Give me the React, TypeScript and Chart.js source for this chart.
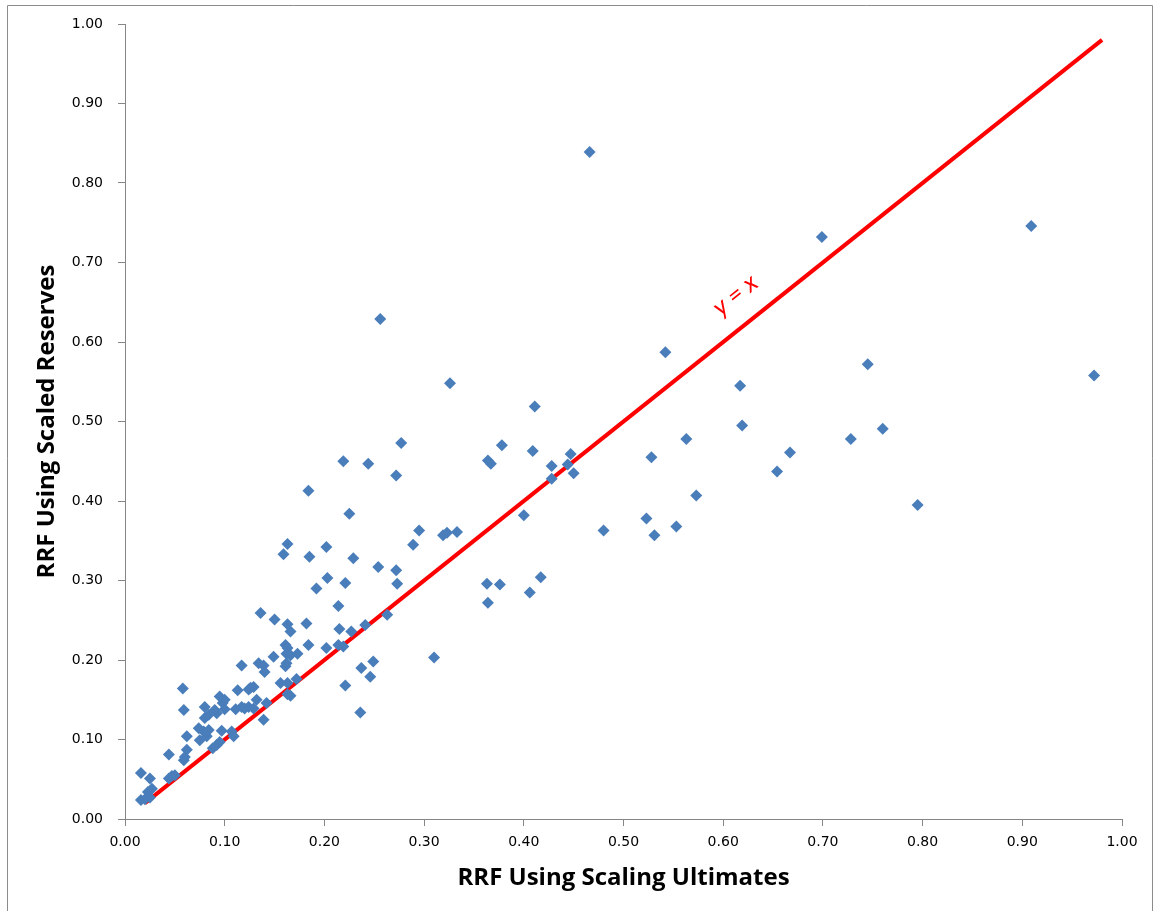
import { useEffect, useRef } from "react";
import { Chart, registerables } from "chart.js";

Chart.register(...registerables);

// RRF using scaling ultimates (x) vs RRF using scaled reserves (y)
const ultimates = [
  0.466, 0.699, 0.909, 0.542, 0.745, 0.972, 0.617, 0.619, 0.563, 0.528,
  0.728, 0.76, 0.667, 0.654, 0.573, 0.795, 0.523, 0.553, 0.48, 0.531,
  0.256, 0.326, 0.411, 0.277, 0.219, 0.244, 0.272, 0.364, 0.367, 0.378,
  0.409, 0.447, 0.428, 0.444, 0.45, 0.428, 0.184, 0.225, 0.4, 0.295,
  0.289, 0.319, 0.323, 0.333, 0.185, 0.202, 0.229, 0.203, 0.192, 0.221,
  0.254, 0.272, 0.273, 0.214, 0.363, 0.376, 0.417, 0.406, 0.364, 0.182,
  0.215, 0.227, 0.241, 0.263, 0.184, 0.202, 0.214, 0.219, 0.31, 0.237,
  0.249, 0.246, 0.221, 0.236, 0.163, 0.159,
  0.136, 0.15, 0.163, 0.166, 0.117, 0.134, 0.139, 0.14, 0.149, 0.173,
  0.161, 0.163, 0.162, 0.166, 0.161, 0.162, 0.156, 0.163, 0.163, 0.166,
  0.172, 0.126, 0.129, 0.113, 0.124, 0.095, 0.058, 0.139, 0.142, 0.12,
  0.124, 0.129, 0.132, 0.111, 0.1, 0.08, 0.098, 0.09, 0.084, 0.092,
  0.08, 0.1, 0.117, 0.059, 0.062, 0.074, 0.079, 0.084, 0.082, 0.075,
  0.097, 0.107, 0.109, 0.088, 0.092, 0.095, 0.044, 0.062, 0.06, 0.059,
  0.047, 0.044, 0.05, 0.016, 0.025, 0.027, 0.023, 0.016, 0.02, 0.025,
];
const reserves = [
  0.839, 0.732, 0.746, 0.587, 0.572, 0.558, 0.545, 0.495, 0.478, 0.455,
  0.478, 0.491, 0.461, 0.437, 0.407, 0.395, 0.378, 0.368, 0.363, 0.357,
  0.629, 0.548, 0.519, 0.473, 0.45, 0.447, 0.432, 0.451, 0.447, 0.47,
  0.463, 0.459, 0.444, 0.446, 0.435, 0.428, 0.413, 0.384, 0.382, 0.363,
  0.345, 0.357, 0.36, 0.361, 0.33, 0.342, 0.328, 0.303, 0.29, 0.297,
  0.317, 0.313, 0.296, 0.268, 0.296, 0.295, 0.304, 0.285, 0.272, 0.246,
  0.239, 0.236, 0.244, 0.257, 0.219, 0.215, 0.219, 0.217, 0.203, 0.19,
  0.198, 0.179, 0.168, 0.134, 0.346, 0.333,
  0.259, 0.251, 0.245, 0.236, 0.193, 0.196, 0.193, 0.185, 0.204, 0.208,
  0.219, 0.215, 0.208, 0.206, 0.192, 0.196, 0.171, 0.171, 0.157, 0.155,
  0.176, 0.165, 0.166, 0.162, 0.163, 0.154, 0.164, 0.125, 0.146, 0.139,
  0.141, 0.139, 0.15, 0.138, 0.15, 0.141, 0.146, 0.137, 0.131, 0.133,
  0.127, 0.138, 0.141, 0.137, 0.104, 0.114, 0.11, 0.112, 0.104, 0.099,
  0.111, 0.11, 0.104, 0.089, 0.093, 0.097, 0.081, 0.087, 0.078, 0.074,
  0.054, 0.051, 0.055, 0.058, 0.051, 0.038, 0.034, 0.024, 0.025, 0.027,
];

// Reference line y = x
const lineX = [0.02, 0.98];
const lineY = [0.02, 0.98];
const lineLabel = "y = x";
const lineLabelAt = [0.612, 0.659];

const axisMin = 0;
const axisMax = 1;
const axisStep = 0.1;

const xTitle = "RRF Using Scaling Ultimates";
const yTitle = "RRF Using Scaled Reserves";

export default function App() {
  const ref = useRef<HTMLCanvasElement>(null);

  useEffect(() => {
    const canvas = ref.current;
    if (!canvas) return;

    const framePlugin = {
      id: "frame",
      beforeDraw(chart: any) {
        const c = chart.ctx;
        c.save();
        c.fillStyle = "#ffffff";
        c.fillRect(0, 0, chart.width, chart.height);
        c.strokeStyle = "#8c8c8c";
        c.lineWidth = 1;
        c.beginPath();
        c.moveTo(7.5, 920);
        c.lineTo(7.5, 5.5);
        c.lineTo(1152.5, 5.5);
        c.lineTo(1152.5, 920);
        c.stroke();
        c.restore();
      },
      afterDatasetsDraw(chart: any) {
        const xs = chart.scales.x;
        const ys = chart.scales.y;
        const x1 = xs.getPixelForValue(lineX[0]);
        const y1 = ys.getPixelForValue(lineY[0]);
        const x2 = xs.getPixelForValue(lineX[1]);
        const y2 = ys.getPixelForValue(lineY[1]);
        const ang = Math.atan2(y2 - y1, x2 - x1);
        const px = xs.getPixelForValue(lineLabelAt[0]);
        const py = ys.getPixelForValue(lineLabelAt[1]);
        const c = chart.ctx;
        c.save();
        c.translate(px, py);
        c.rotate(ang);
        c.fillStyle = "#ff0000";
        c.font = 'italic 25px Lato';
        c.textAlign = "center";
        c.textBaseline = "middle";
        c.fillText(lineLabel, 0, 0);
        c.restore();
      },
    };

    const axisCommon = {
      type: "linear" as const,
      min: axisMin,
      max: axisMax,
      grid: {
        drawOnChartArea: false,
        drawTicks: true,
        tickLength: 7,
        color: "#868686",
      },
      border: { color: "#868686", width: 1 },
    };

    const titleFont = { family: "'Open Sans'", size: 24, weight: "bold" as const };
    const tickFont = { family: "'DejaVu Sans'", size: 14 };

    const chart = new Chart(canvas, {
      type: "scatter",
      data: {
        datasets: [
          {
            label: "RRF",
            data: ultimates.map((x, i) => ({ x, y: reserves[i] })),
            pointStyle: "rectRot",
            pointRadius: 6,
            pointHoverRadius: 6,
            backgroundColor: "#4a7ebb",
            borderColor: "#4a7ebb",
            borderWidth: 0,
            order: 1,
          },
          {
            label: "y = x",
            type: "line",
            data: lineX.map((x, i) => ({ x, y: lineY[i] })),
            borderColor: "#ff0000",
            borderWidth: 4,
            pointRadius: 0,
            showLine: true,
            fill: false,
            order: 2,
          },
        ],
      },
      options: {
        animation: false,
        responsive: false,
        maintainAspectRatio: false,
        layout: { padding: { left: 0, top: 24, right: 34, bottom: 0 } },
        plugins: {
          legend: { display: false },
          tooltip: { enabled: false },
        },
        scales: {
          x: {
            ...axisCommon,
            position: "bottom",
            ticks: {
              stepSize: axisStep,
              callback: (v: any) => Number(v).toFixed(2),
              font: tickFont,
              color: "#000000",
              padding: 8,
              maxRotation: 0,
              autoSkip: false,
            },
            title: {
              display: true,
              text: xTitle,
              font: titleFont,
              color: "#000000",
              padding: { top: 0, bottom: 18 },
            },
            afterFit: (s: any) => {
              s.height = 92;
            },
          },
          y: {
            ...axisCommon,
            position: "left",
            ticks: {
              stepSize: axisStep,
              callback: (v: any) => Number(v).toFixed(2),
              font: tickFont,
              color: "#000000",
              padding: 15,
              autoSkip: false,
            },
            title: {
              display: true,
              text: yTitle,
              font: titleFont,
              color: "#000000",
              padding: { top: 33, bottom: 0 },
            },
            afterFit: (s: any) => {
              s.width = 125;
            },
          },
        },
      },
      plugins: [framePlugin],
    });

    return () => chart.destroy();
  }, []);

  return (
    <div style={{ position: "fixed", left: 0, top: 0, width: 1156, height: 911 }}>
      <canvas ref={ref} width={1156} height={911} style={{ display: "block" }} />
    </div>
  );
}
